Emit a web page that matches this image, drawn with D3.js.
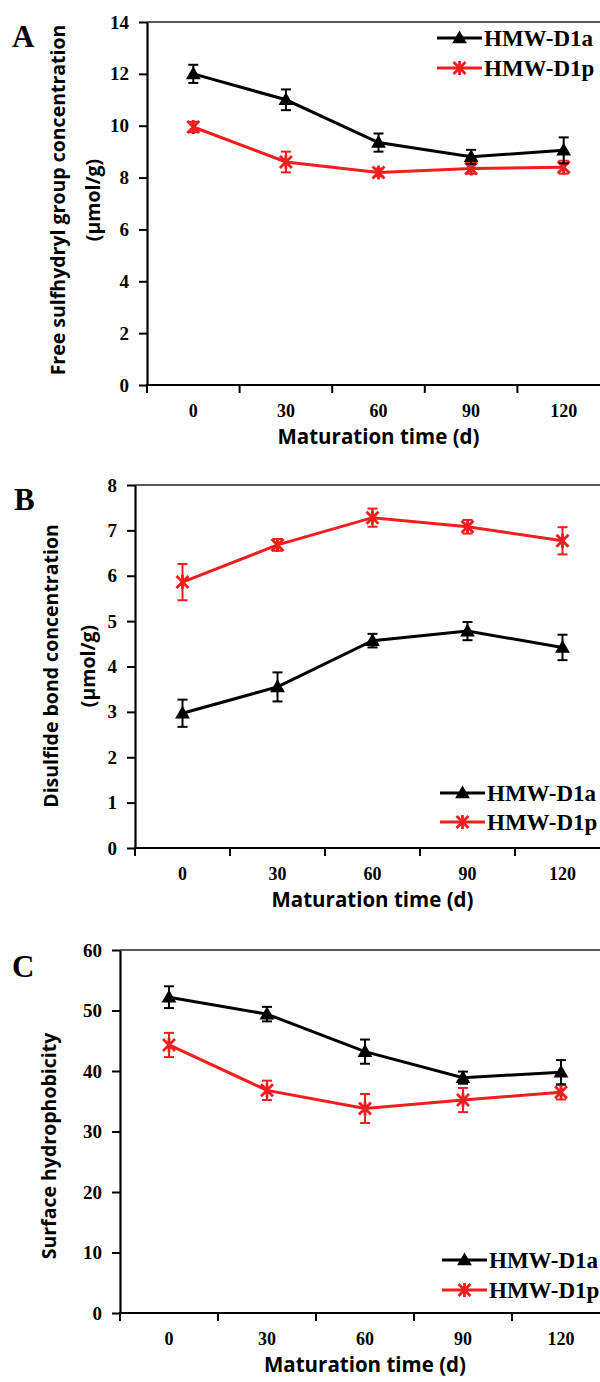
<!DOCTYPE html>
<html>
<head>
<meta charset="utf-8">
<script src="https://cdn.jsdelivr.net/npm/d3@7"></script>
<style>
  body { margin: 0; background: #fff; }
  svg  { display: block; }
</style>
</head>
<body>
<svg id="chart"></svg>
<script>
/* ── Data ── */
const DAYS = ['0', '30', '60', '90', '120'];
const SERIES_NAMES = ['HMW-D1a', 'HMW-D1p'];

/* A: free sulfhydryl group (µmol/g) */
const SH_TICKS   = [0, 2, 4, 6, 8, 10, 12, 14];
const SH_D1A     = [12.0, 11.0, 9.35, 8.8, 9.05];
const SH_D1A_ERR = [0.35, 0.4, 0.35, 0.27, 0.5];
const SH_D1P     = [9.95, 8.6, 8.2, 8.35, 8.4];
const SH_D1P_ERR = [0.2, 0.4, 0.15, 0.2, 0.25];

/* B: disulfide bond (µmol/g) */
const SS_TICKS   = [0, 1, 2, 3, 4, 5, 6, 7, 8];
const SS_D1A     = [2.97, 3.55, 4.57, 4.78, 4.42];
const SS_D1A_ERR = [0.3, 0.32, 0.15, 0.2, 0.28];
const SS_D1P     = [5.86, 6.68, 7.28, 7.08, 6.77];
const SS_D1P_ERR = [0.4, 0.13, 0.2, 0.15, 0.3];

/* C: surface hydrophobicity */
const HY_TICKS   = [0, 10, 20, 30, 40, 50, 60];
const HY_D1A     = [52.2, 49.4, 43.2, 38.9, 39.8];
const HY_D1A_ERR = [1.8, 1.2, 2.0, 1.0, 2.0];
const HY_D1P     = [44.3, 36.8, 33.8, 35.2, 36.5];
const HY_D1P_ERR = [2.0, 1.6, 2.4, 2.0, 1.2];

/* ── Styles ── */
const BLACK = '#000000';
const RED   = '#f21d1d';
const SERIF = '"Liberation Serif", "Times New Roman", serif';
const SANS  = '"Open Sans", "Noto Sans", sans-serif';

const W = 600, H = 1382;

const svg = d3.select('#chart')
  .attr('width', W)
  .attr('height', H)
  .attr('viewBox', `0 0 ${W} ${H}`);

/* panel geometry (pixels) */
const panels = [
  {
    label: 'A', labelX: 12, labelY: 47,
    left: 147, right: 610, top: 22, bottom: 385,
    ticks: SH_TICKS,
    titleLines: ['Free sulfhydryl group concentration', '(µmol/g)'],
    titleX: [57, 92], titleY: 200,
    series: [
      { vals: SH_D1A, errs: SH_D1A_ERR, color: BLACK, marker: 'tri' },
      { vals: SH_D1P, errs: SH_D1P_ERR, color: RED,   marker: 'star' },
    ],
    legendX: 437, legendY: [38, 68],
  },
  {
    label: 'B', labelX: 14, labelY: 510,
    left: 135, right: 610, top: 485, bottom: 848,
    ticks: SS_TICKS,
    titleLines: ['Disulfide bond concentration', '(µmol/g)'],
    titleX: [50, 87], titleY: 666,
    series: [
      { vals: SS_D1A, errs: SS_D1A_ERR, color: BLACK, marker: 'tri' },
      { vals: SS_D1P, errs: SS_D1P_ERR, color: RED,   marker: 'star' },
    ],
    legendX: 440, legendY: [793, 822],
  },
  {
    label: 'C', labelX: 12, labelY: 977,
    left: 120, right: 610, top: 950, bottom: 1313,
    ticks: HY_TICKS,
    titleLines: ['Surface hydrophobicity'],
    titleX: [48], titleY: 1146,
    series: [
      { vals: HY_D1A, errs: HY_D1A_ERR, color: BLACK, marker: 'tri' },
      { vals: HY_D1P, errs: HY_D1P_ERR, color: RED,   marker: 'star' },
    ],
    legendX: 442, legendY: [1260, 1290],
  },
];

/* ── Markers ── */
function drawMarker(g, kind, x, y, color) {
  if (kind === 'tri') {
    g.append('path')
      .attr('d', d3.symbol().type(d3.symbolTriangle).size(95)())
      .attr('transform', `translate(${x},${y + 1})`)
      .attr('fill', color);
  } else {
    const r = 6;
    g.append('path')
      .attr('d', `M${x - r},${y - r}L${x + r},${y + r}M${x - r},${y + r}L${x + r},${y - r}M${x},${y - r - 1}L${x},${y + r + 1}`)
      .attr('stroke', color)
      .attr('stroke-width', 2.8)
      .attr('fill', 'none');
  }
}

panels.forEach(p => {
  const g = svg.append('g');

  const x = d3.scaleBand().domain(DAYS).range([p.left, p.right]).paddingInner(0).paddingOuter(0);
  const yMax = p.ticks[p.ticks.length - 1];
  const y = d3.scaleLinear().domain([0, yMax]).range([p.bottom, p.top]);
  const cx = d => x(d) + x.bandwidth() / 2;

  /* top frame line */
  g.append('line')
    .attr('x1', p.left).attr('x2', p.right)
    .attr('y1', p.top).attr('y2', p.top)
    .attr('stroke', '#222').attr('stroke-width', 1.6);

  /* y axis */
  g.append('g')
    .attr('transform', `translate(${p.left},0)`)
    .call(d3.axisLeft(y).tickValues(p.ticks).tickSize(8).tickPadding(10).tickSizeOuter(0))
    .call(ax => ax.select('.domain').attr('stroke', BLACK).attr('stroke-width', 2.2))
    .call(ax => ax.selectAll('.tick line').attr('stroke', BLACK).attr('stroke-width', 2))
    .call(ax => ax.selectAll('.tick text')
      .attr('fill', BLACK)
      .attr('font-family', SERIF)
      .attr('font-weight', 'bold')
      .attr('font-size', 19));

  /* x axis: ticks at band edges, labels at band centres */
  g.append('line')
    .attr('x1', p.left - 1).attr('x2', p.right)
    .attr('y1', p.bottom).attr('y2', p.bottom)
    .attr('stroke', BLACK).attr('stroke-width', 2.2);

  g.selectAll('.xtick')
    .data(DAYS)
    .join('line')
    .attr('class', 'xtick')
    .attr('x1', d => x(d)).attr('x2', d => x(d))
    .attr('y1', p.bottom).attr('y2', p.bottom + 8)
    .attr('stroke', BLACK).attr('stroke-width', 2);

  g.selectAll('.xlab')
    .data(DAYS)
    .join('text')
    .attr('class', 'xlab')
    .attr('x', cx)
    .attr('y', p.bottom + 32)
    .attr('text-anchor', 'middle')
    .attr('fill', BLACK)
    .attr('font-family', SERIF)
    .attr('font-weight', 'bold')
    .attr('font-size', 18)
    .text(d => d);

  /* x title */
  g.append('text')
    .attr('x', (cx(DAYS[0]) + cx(DAYS[DAYS.length - 1])) / 2)
    .attr('y', p.bottom + 59)
    .attr('text-anchor', 'middle')
    .attr('fill', BLACK)
    .attr('font-family', SANS)
    .attr('font-weight', 'bold')
    .attr('font-size', 20.5)
    .text('Maturation time (d)');

  /* y title */
  p.titleLines.forEach((t, i) => {
    g.append('text')
      .attr('transform', `translate(${p.titleX[i]},${p.titleY}) rotate(-90)`)
      .attr('text-anchor', 'middle')
      .attr('dominant-baseline', 'central')
      .attr('fill', BLACK)
      .attr('font-family', SANS)
      .attr('font-weight', 'bold')
      .attr('font-size', 19.5)
      .text(t);
  });

  /* panel letter */
  g.append('text')
    .attr('x', p.labelX).attr('y', p.labelY)
    .attr('fill', BLACK)
    .attr('font-family', SERIF)
    .attr('font-weight', 'bold')
    .attr('font-size', 31)
    .text(p.label);

  /* series: red drawn first, black on top */
  [...p.series].reverse().forEach(s => {
    const pts = DAYS.map((d, i) => ({ d, v: s.vals[i], e: s.errs[i] }));

    g.append('path')
      .datum(pts)
      .attr('fill', 'none')
      .attr('stroke', s.color)
      .attr('stroke-width', 3)
      .attr('d', d3.line().x(q => cx(q.d)).y(q => y(q.v)));

    /* error bars */
    const eb = g.append('g').attr('stroke', s.color).attr('stroke-width', 2);
    pts.forEach(q => {
      const X = cx(q.d), y1 = y(q.v + q.e), y2 = y(q.v - q.e);
      eb.append('line').attr('x1', X).attr('x2', X).attr('y1', y1).attr('y2', y2);
      eb.append('line').attr('x1', X - 5).attr('x2', X + 5).attr('y1', y1).attr('y2', y1);
      eb.append('line').attr('x1', X - 5).attr('x2', X + 5).attr('y1', y2).attr('y2', y2);
    });

    pts.forEach(q => drawMarker(g, s.marker, cx(q.d), y(q.v), s.color));
  });

  /* legend */
  p.series.forEach((s, i) => {
    const ly = p.legendY[i];
    const lx1 = p.legendX;
    const lx2 = lx1 + 45;
    g.append('line')
      .attr('x1', lx1).attr('x2', lx2)
      .attr('y1', ly).attr('y2', ly)
      .attr('stroke', s.color).attr('stroke-width', 3);
    drawMarker(g, s.marker, (lx1 + lx2) / 2, ly, s.color);
    g.append('text')
      .attr('x', lx2 + 2)
      .attr('y', ly + 8)
      .attr('fill', BLACK)
      .attr('font-family', SERIF)
      .attr('font-weight', 'bold')
      .attr('font-size', 23)
      .text(SERIES_NAMES[i]);
  });
});
</script>
</body>
</html>
